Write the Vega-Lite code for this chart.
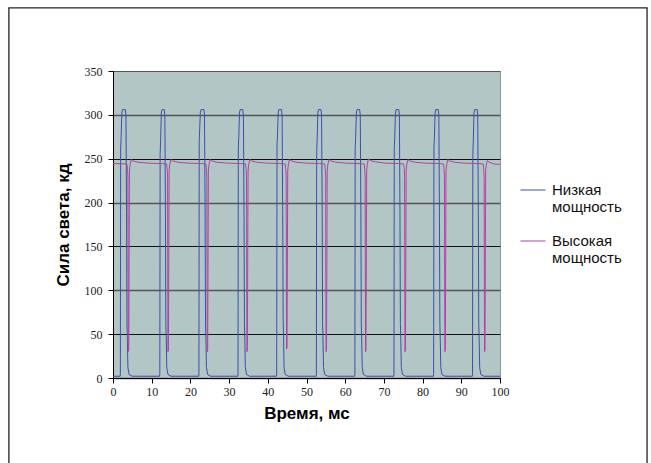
{
 "$schema": "https://vega.github.io/schema/vega-lite/v6.json",
 "width": 387,
 "height": 307,
 "autosize": {"type": "none"},
 "padding": {"left": 113, "top": 71, "right": 151, "bottom": 85},
 "background": "white",
 "config": {"view": {"fill": "#b3c6c6", "stroke": "#8a9a9a"}, "font": "Liberation Sans"},
 "layer": [
  {
   "data": {"values": [
    {"t":0,"v":2,"s":"Низкая мощность"},
    {"t":1.85,"v":2,"s":"Низкая мощность"},{"t":1.9,"v":5,"s":"Низкая мощность"},{"t":1.98,"v":262,"s":"Низкая мощность"},{"t":2.1,"v":274,"s":"Низкая мощность"},{"t":2.28,"v":302,"s":"Низкая мощность"},{"t":2.45,"v":306,"s":"Низкая мощность"},{"t":3.2,"v":306,"s":"Низкая мощность"},{"t":3.35,"v":299,"s":"Низкая мощность"},{"t":3.5,"v":190,"s":"Низкая мощность"},{"t":3.61,"v":62,"s":"Низкая мощность"},{"t":3.71,"v":45,"s":"Низкая мощность"},{"t":3.85,"v":12,"s":"Низкая мощность"},{"t":4.15,"v":4,"s":"Низкая мощность"},{"t":4.95,"v":2,"s":"Низкая мощность"},
    {"t":12.05,"v":2,"s":"Низкая мощность"},{"t":12.1,"v":5,"s":"Низкая мощность"},{"t":12.18,"v":255,"s":"Низкая мощность"},{"t":12.3,"v":270,"s":"Низкая мощность"},{"t":12.48,"v":302,"s":"Низкая мощность"},{"t":12.65,"v":306,"s":"Низкая мощность"},{"t":13.25,"v":306,"s":"Низкая мощность"},{"t":13.4,"v":299,"s":"Низкая мощность"},{"t":13.55,"v":190,"s":"Низкая мощность"},{"t":13.66,"v":62,"s":"Низкая мощность"},{"t":13.76,"v":45,"s":"Низкая мощность"},{"t":13.9,"v":12,"s":"Низкая мощность"},{"t":14.2,"v":4,"s":"Низкая мощность"},{"t":15,"v":2,"s":"Низкая мощность"},
    {"t":22.15,"v":2,"s":"Низкая мощность"},{"t":22.2,"v":5,"s":"Низкая мощность"},{"t":22.28,"v":270,"s":"Низкая мощность"},{"t":22.4,"v":284,"s":"Низкая мощность"},{"t":22.58,"v":303,"s":"Низкая мощность"},{"t":22.75,"v":306,"s":"Низкая мощность"},{"t":23.5,"v":306,"s":"Низкая мощность"},{"t":23.65,"v":299,"s":"Низкая мощность"},{"t":23.8,"v":190,"s":"Низкая мощность"},{"t":23.91,"v":62,"s":"Низкая мощность"},{"t":24.01,"v":45,"s":"Низкая мощность"},{"t":24.15,"v":12,"s":"Низкая мощность"},{"t":24.45,"v":4,"s":"Низкая мощность"},{"t":25.25,"v":2,"s":"Низкая мощность"},
    {"t":32.25,"v":2,"s":"Низкая мощность"},{"t":32.3,"v":5,"s":"Низкая мощность"},{"t":32.38,"v":262,"s":"Низкая мощность"},{"t":32.5,"v":274,"s":"Низкая мощность"},{"t":32.68,"v":302,"s":"Низкая мощность"},{"t":32.85,"v":306,"s":"Низкая мощность"},{"t":33.55,"v":306,"s":"Низкая мощность"},{"t":33.7,"v":299,"s":"Низкая мощность"},{"t":33.85,"v":190,"s":"Низкая мощность"},{"t":33.96,"v":62,"s":"Низкая мощность"},{"t":34.06,"v":45,"s":"Низкая мощность"},{"t":34.2,"v":12,"s":"Низкая мощность"},{"t":34.5,"v":4,"s":"Низкая мощность"},{"t":35.3,"v":2,"s":"Низкая мощность"},
    {"t":42.25,"v":2,"s":"Низкая мощность"},{"t":42.3,"v":5,"s":"Низкая мощность"},{"t":42.38,"v":265,"s":"Низкая мощность"},{"t":42.5,"v":276,"s":"Низкая мощность"},{"t":42.68,"v":302,"s":"Низкая мощность"},{"t":42.85,"v":306,"s":"Низкая мощность"},{"t":43.55,"v":306,"s":"Низкая мощность"},{"t":43.7,"v":299,"s":"Низкая мощность"},{"t":43.85,"v":190,"s":"Низкая мощность"},{"t":43.96,"v":70,"s":"Низкая мощность"},{"t":44.06,"v":50,"s":"Низкая мощность"},{"t":44.2,"v":12,"s":"Низкая мощность"},{"t":44.5,"v":4,"s":"Низкая мощность"},{"t":45.3,"v":2,"s":"Низкая мощность"},
    {"t":52.5,"v":2,"s":"Низкая мощность"},{"t":52.55,"v":5,"s":"Низкая мощность"},{"t":52.63,"v":258,"s":"Низкая мощность"},{"t":52.75,"v":272,"s":"Низкая мощность"},{"t":52.93,"v":302,"s":"Низкая мощность"},{"t":53.1,"v":306,"s":"Низкая мощность"},{"t":53.75,"v":306,"s":"Низкая мощность"},{"t":53.9,"v":299,"s":"Низкая мощность"},{"t":54.05,"v":190,"s":"Низкая мощность"},{"t":54.16,"v":62,"s":"Низкая мощность"},{"t":54.26,"v":45,"s":"Низкая мощность"},{"t":54.4,"v":12,"s":"Низкая мощность"},{"t":54.7,"v":4,"s":"Низкая мощность"},{"t":55.5,"v":2,"s":"Низкая мощность"},
    {"t":62.45,"v":2,"s":"Низкая мощность"},{"t":62.5,"v":5,"s":"Низкая мощность"},{"t":62.58,"v":262,"s":"Низкая мощность"},{"t":62.7,"v":274,"s":"Низкая мощность"},{"t":62.88,"v":302,"s":"Низкая мощность"},{"t":63.05,"v":306,"s":"Низкая мощность"},{"t":63.75,"v":306,"s":"Низкая мощность"},{"t":63.9,"v":299,"s":"Низкая мощность"},{"t":64.05,"v":190,"s":"Низкая мощность"},{"t":64.16,"v":62,"s":"Низкая мощность"},{"t":64.26,"v":45,"s":"Низкая мощность"},{"t":64.4,"v":12,"s":"Низкая мощность"},{"t":64.7,"v":4,"s":"Низкая мощность"},{"t":65.5,"v":2,"s":"Низкая мощность"},
    {"t":72.55,"v":2,"s":"Низкая мощность"},{"t":72.6,"v":5,"s":"Низкая мощность"},{"t":72.68,"v":262,"s":"Низкая мощность"},{"t":72.8,"v":274,"s":"Низкая мощность"},{"t":72.98,"v":302,"s":"Низкая мощность"},{"t":73.15,"v":306,"s":"Низкая мощность"},{"t":73.85,"v":306,"s":"Низкая мощность"},{"t":74,"v":299,"s":"Низкая мощность"},{"t":74.15,"v":190,"s":"Низкая мощность"},{"t":74.26,"v":62,"s":"Низкая мощность"},{"t":74.36,"v":45,"s":"Низкая мощность"},{"t":74.5,"v":12,"s":"Низкая мощность"},{"t":74.8,"v":4,"s":"Низкая мощность"},{"t":75.6,"v":2,"s":"Низкая мощность"},
    {"t":82.8,"v":2,"s":"Низкая мощность"},{"t":82.85,"v":5,"s":"Низкая мощность"},{"t":82.93,"v":262,"s":"Низкая мощность"},{"t":83.05,"v":274,"s":"Низкая мощность"},{"t":83.23,"v":302,"s":"Низкая мощность"},{"t":83.4,"v":306,"s":"Низкая мощность"},{"t":84.05,"v":306,"s":"Низкая мощность"},{"t":84.2,"v":299,"s":"Низкая мощность"},{"t":84.35,"v":190,"s":"Низкая мощность"},{"t":84.46,"v":62,"s":"Низкая мощность"},{"t":84.56,"v":45,"s":"Низкая мощность"},{"t":84.7,"v":12,"s":"Низкая мощность"},{"t":85,"v":4,"s":"Низкая мощность"},{"t":85.8,"v":2,"s":"Низкая мощность"},
    {"t":92.85,"v":2,"s":"Низкая мощность"},{"t":92.9,"v":5,"s":"Низкая мощность"},{"t":92.98,"v":255,"s":"Низкая мощность"},{"t":93.1,"v":270,"s":"Низкая мощность"},{"t":93.28,"v":302,"s":"Низкая мощность"},{"t":93.45,"v":306,"s":"Низкая мощность"},{"t":94.1,"v":306,"s":"Низкая мощность"},{"t":94.25,"v":299,"s":"Низкая мощность"},{"t":94.4,"v":190,"s":"Низкая мощность"},{"t":94.51,"v":62,"s":"Низкая мощность"},{"t":94.61,"v":45,"s":"Низкая мощность"},{"t":94.75,"v":12,"s":"Низкая мощность"},{"t":95.05,"v":4,"s":"Низкая мощность"},{"t":95.85,"v":2,"s":"Низкая мощность"},
    {"t":100,"v":2,"s":"Низкая мощность"},

    {"t":0,"v":244.5,"s":"Высокая мощность"},
    {"t":3.6,"v":244,"s":"Высокая мощность"},{"t":3.75,"v":238,"s":"Высокая мощность"},{"t":3.85,"v":230,"s":"Высокая мощность"},{"t":3.95,"v":30,"s":"Высокая мощность"},{"t":4.07,"v":32,"s":"Высокая мощность"},{"t":4.25,"v":236,"s":"Высокая мощность"},{"t":4.4,"v":243,"s":"Высокая мощность"},{"t":4.7,"v":249,"s":"Высокая мощность"},{"t":5.15,"v":247.5,"s":"Высокая мощность"},{"t":6.45,"v":246,"s":"Высокая мощность"},{"t":8.95,"v":245,"s":"Высокая мощность"},{"t":12.45,"v":244.5,"s":"Высокая мощность"},
    {"t":13.85,"v":244,"s":"Высокая мощность"},{"t":14,"v":238,"s":"Высокая мощность"},{"t":14.1,"v":230,"s":"Высокая мощность"},{"t":14.2,"v":30,"s":"Высокая мощность"},{"t":14.32,"v":32,"s":"Высокая мощность"},{"t":14.5,"v":236,"s":"Высокая мощность"},{"t":14.65,"v":243,"s":"Высокая мощность"},{"t":14.95,"v":249,"s":"Высокая мощность"},{"t":15.4,"v":247.5,"s":"Высокая мощность"},{"t":16.7,"v":246,"s":"Высокая мощность"},{"t":19.2,"v":245,"s":"Высокая мощность"},{"t":22.7,"v":244.5,"s":"Высокая мощность"},
    {"t":24,"v":244,"s":"Высокая мощность"},{"t":24.15,"v":238,"s":"Высокая мощность"},{"t":24.25,"v":230,"s":"Высокая мощность"},{"t":24.35,"v":30,"s":"Высокая мощность"},{"t":24.47,"v":32,"s":"Высокая мощность"},{"t":24.65,"v":236,"s":"Высокая мощность"},{"t":24.8,"v":243,"s":"Высокая мощность"},{"t":25.1,"v":249,"s":"Высокая мощность"},{"t":25.55,"v":247.5,"s":"Высокая мощность"},{"t":26.85,"v":246,"s":"Высокая мощность"},{"t":29.35,"v":245,"s":"Высокая мощность"},{"t":32.85,"v":244.5,"s":"Высокая мощность"},
    {"t":34.25,"v":244,"s":"Высокая мощность"},{"t":34.4,"v":238,"s":"Высокая мощность"},{"t":34.5,"v":230,"s":"Высокая мощность"},{"t":34.6,"v":30,"s":"Высокая мощность"},{"t":34.72,"v":32,"s":"Высокая мощность"},{"t":34.9,"v":236,"s":"Высокая мощность"},{"t":35.05,"v":243,"s":"Высокая мощность"},{"t":35.35,"v":249,"s":"Высокая мощность"},{"t":35.8,"v":247.5,"s":"Высокая мощность"},{"t":37.1,"v":246,"s":"Высокая мощность"},{"t":39.6,"v":245,"s":"Высокая мощность"},{"t":43.1,"v":244.5,"s":"Высокая мощность"},
    {"t":44.5,"v":244,"s":"Высокая мощность"},{"t":44.65,"v":238,"s":"Высокая мощность"},{"t":44.75,"v":230,"s":"Высокая мощность"},{"t":44.85,"v":33,"s":"Высокая мощность"},{"t":44.97,"v":35,"s":"Высокая мощность"},{"t":45.15,"v":236,"s":"Высокая мощность"},{"t":45.3,"v":243,"s":"Высокая мощность"},{"t":45.6,"v":249,"s":"Высокая мощность"},{"t":46.05,"v":247.5,"s":"Высокая мощность"},{"t":47.35,"v":246,"s":"Высокая мощность"},{"t":49.85,"v":245,"s":"Высокая мощность"},{"t":53.35,"v":244.5,"s":"Высокая мощность"},
    {"t":54.7,"v":244,"s":"Высокая мощность"},{"t":54.85,"v":238,"s":"Высокая мощность"},{"t":54.95,"v":230,"s":"Высокая мощность"},{"t":55.05,"v":30,"s":"Высокая мощность"},{"t":55.17,"v":32,"s":"Высокая мощность"},{"t":55.35,"v":236,"s":"Высокая мощность"},{"t":55.5,"v":243,"s":"Высокая мощность"},{"t":55.8,"v":249,"s":"Высокая мощность"},{"t":56.25,"v":247.5,"s":"Высокая мощность"},{"t":57.55,"v":246,"s":"Высокая мощность"},{"t":60.05,"v":245,"s":"Высокая мощность"},{"t":63.55,"v":244.5,"s":"Высокая мощность"},
    {"t":64.9,"v":244,"s":"Высокая мощность"},{"t":65.05,"v":238,"s":"Высокая мощность"},{"t":65.15,"v":230,"s":"Высокая мощность"},{"t":65.25,"v":30,"s":"Высокая мощность"},{"t":65.37,"v":32,"s":"Высокая мощность"},{"t":65.55,"v":236,"s":"Высокая мощность"},{"t":65.7,"v":243,"s":"Высокая мощность"},{"t":66,"v":250,"s":"Высокая мощность"},{"t":66.45,"v":248,"s":"Высокая мощность"},{"t":67.75,"v":246.5,"s":"Высокая мощность"},{"t":70.25,"v":245,"s":"Высокая мощность"},{"t":73.75,"v":244.5,"s":"Высокая мощность"},
    {"t":75.1,"v":244,"s":"Высокая мощность"},{"t":75.25,"v":238,"s":"Высокая мощность"},{"t":75.35,"v":230,"s":"Высокая мощность"},{"t":75.45,"v":30,"s":"Высокая мощность"},{"t":75.57,"v":32,"s":"Высокая мощность"},{"t":75.75,"v":236,"s":"Высокая мощность"},{"t":75.9,"v":243,"s":"Высокая мощность"},{"t":76.2,"v":249,"s":"Высокая мощность"},{"t":76.65,"v":247.5,"s":"Высокая мощность"},{"t":77.95,"v":246,"s":"Высокая мощность"},{"t":80.45,"v":245,"s":"Высокая мощность"},{"t":83.95,"v":244.5,"s":"Высокая мощность"},
    {"t":85.4,"v":244,"s":"Высокая мощность"},{"t":85.55,"v":238,"s":"Высокая мощность"},{"t":85.65,"v":230,"s":"Высокая мощность"},{"t":85.75,"v":30,"s":"Высокая мощность"},{"t":85.87,"v":32,"s":"Высокая мощность"},{"t":86.05,"v":236,"s":"Высокая мощность"},{"t":86.2,"v":243,"s":"Высокая мощность"},{"t":86.5,"v":249,"s":"Высокая мощность"},{"t":86.95,"v":247.5,"s":"Высокая мощность"},{"t":88.25,"v":246,"s":"Высокая мощность"},{"t":90.75,"v":245,"s":"Высокая мощность"},{"t":94.25,"v":244.5,"s":"Высокая мощность"},
    {"t":95.65,"v":244,"s":"Высокая мощность"},{"t":95.8,"v":238,"s":"Высокая мощность"},{"t":95.9,"v":230,"s":"Высокая мощность"},{"t":96,"v":30,"s":"Высокая мощность"},{"t":96.12,"v":32,"s":"Высокая мощность"},{"t":96.3,"v":236,"s":"Высокая мощность"},{"t":96.45,"v":243,"s":"Высокая мощность"},{"t":96.75,"v":248,"s":"Высокая мощность"},{"t":97.2,"v":246,"s":"Высокая мощность"},{"t":98.5,"v":244,"s":"Высокая мощность"},{"t":100,"v":243.5,"s":"Высокая мощность"}
   ]},
   "mark": {"type": "line", "strokeWidth": 1, "interpolate": "linear"},
   "encoding": {
    "x": {
     "field": "t", "type": "quantitative",
     "scale": {"domain": [0, 100], "nice": false, "zero": false},
     "axis": {
      "title": "Время, мс", "values": [0,10,20,30,40,50,60,70,80,90,100], "tickCount": 11,
      "grid": false, "domainColor": "#000000", "tickColor": "#000000", "tickSize": 5,
      "labelOverlap": false, "labelFlush": false,
      "labelFont": "Liberation Sans Narrow", "labelFontSize": 12, "labelColor": "#222222", "labelPadding": 3,
      "titleFont": "Liberation Sans", "titleFontWeight": "bold", "titleFontSize": 17, "titleColor": "#000000", "titlePadding": 8
     }
    },
    "y": {
     "field": "v", "type": "quantitative",
     "scale": {"domain": [0, 350], "nice": false},
     "axis": {
      "title": "Сила света, кд", "values": [0,50,100,150,200,250,300,350],
      "grid": true, "labelOverlap": false, "labelFlush": false,
      "gridColor": {"condition": {"test": "datum.value % 100 == 0 || datum.value == 350", "value": "#555555"}, "value": "#111111"},
      "gridWidth": {"condition": {"test": "datum.value % 100 == 0", "value": 1.5}, "value": 1},
      "domainColor": "#000000", "tickColor": "#000000", "tickSize": 5,
      "labelFont": "Liberation Sans Narrow", "labelFontSize": 12, "labelColor": "#222222", "labelPadding": 6,
      "titleFont": "Liberation Sans", "titleFontWeight": "bold", "titleFontSize": 17, "titleColor": "#000000", "titlePadding": 12
     }
    },
    "color": {
     "field": "s", "type": "nominal",
     "scale": {"domain": ["Низкая мощность", "Высокая мощность"], "range": ["#3a4fb0", "#b0449e"]},
     "legend": {
      "title": null, "orient": "none", "legendX": 407, "legendY": 106,
      "symbolType": "stroke", "symbolSize": 625, "symbolStrokeWidth": 1,
      "labelExpr": "split(datum.label, ' ')",
      "labelFont": "Liberation Sans", "labelFontSize": 15, "labelColor": "#111111",
      "labelOffset": 6, "rowPadding": 13
     }
    }
   }
  },
  {
   "data": {"values": [{"frame": 1}]},
   "mark": {"type": "rect", "filled": false, "stroke": "#222222", "strokeWidth": 1.3, "clip": false},
   "encoding": {
    "x": {"datum": -26.9, "type": "quantitative"},
    "x2": {"datum": 138},
    "y": {"datum": 422, "type": "quantitative"},
    "y2": {"datum": -150}
   }
  }
 ]
}
